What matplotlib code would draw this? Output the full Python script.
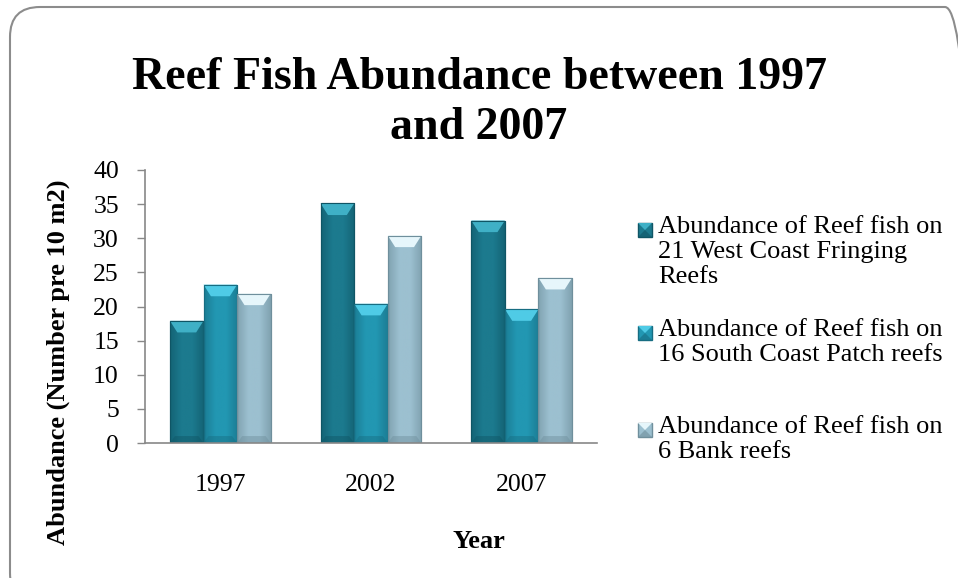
import matplotlib
matplotlib.use("Agg")
import matplotlib.pyplot as plt
import numpy as np
from matplotlib.patches import FancyBboxPatch, Polygon, Rectangle
from matplotlib.colors import LinearSegmentedColormap

years = ["1997", "2002", "2007"]
series_names = [
    "Abundance of Reef fish on\n21 West Coast Fringing\nReefs",
    "Abundance of Reef fish on\n16 South Coast Patch reefs",
    "Abundance of Reef fish on\n6 Bank reefs",
]
west_coast = [17.9, 35.1, 32.6]
south_coast = [23.2, 20.4, 19.6]
bank_reefs = [21.9, 30.4, 24.2]
yticks = [0, 5, 10, 15, 20, 25, 30, 35, 40]

colors = ["#1c7a8e", "#2297b2", "#9cc0d0"]
hi_colors = ["#3fb0c6", "#4fcbe6", "#e6f6fb"]
dark_colors = ["#0f5565", "#176d82", "#6f8f9c"]

serif = ["Liberation Serif", "DejaVu Serif"]
plt.rcParams['font.family'] = serif

W, H = 958, 578
fig = plt.figure(figsize=(W / 100, H / 100), dpi=100)
ax = fig.add_axes([145 / W, 1 - 443 / H, (597 - 145) / W, (443 - 170) / H])

x = np.arange(len(years))
width = 0.223
data = [west_coast, south_coast, bank_reefs]
handles = []
for i, (vals, c) in enumerate(zip(data, colors)):
    offs = (i - 1) * width
    bars = ax.bar(x + offs, vals, width, color=c, edgecolor=dark_colors[i],
                  linewidth=0.8, label=series_names[i], zorder=2)
    handles.append(bars)
    cmap = LinearSegmentedColormap.from_list("g%d" % i, [dark_colors[i], c, c, dark_colors[i]])
    for b, v in zip(bars, vals):
        x0 = b.get_x()
        w = b.get_width()
        grad = np.linspace(0, 1, 64).reshape(1, -1)
        im = ax.imshow(grad, extent=[x0, x0 + w, 0, v], aspect='auto', cmap=cmap,
                       zorder=2.1, alpha=0.6)
        im.set_clip_path(b)
        cap = 1.7
        top = Polygon([[x0, v], [x0 + w, v], [x0 + w * 0.78, v - cap], [x0 + w * 0.22, v - cap]],
                      closed=True, facecolor=hi_colors[i], edgecolor='none', zorder=2.2)
        ax.add_patch(top)
        bot = Polygon([[x0, 0], [x0 + w, 0], [x0 + w * 0.85, cap * 0.6], [x0 + w * 0.15, cap * 0.6]],
                      closed=True, facecolor=dark_colors[i], edgecolor='none', alpha=0.45, zorder=2.2)
        ax.add_patch(bot)
        ax.add_patch(Rectangle((x0, 0), w, v, fill=False, edgecolor=dark_colors[i],
                               linewidth=0.8, zorder=2.3))

ax.set_xlim(-0.5, 2.5)
ax.set_ylim(0, 40)
ax.set_yticks(yticks)
ax.set_yticklabels([str(t) for t in yticks], fontsize=18.5)
ax.set_xticks(x)
ax.set_xticklabels(years, fontsize=18.5)
ax.tick_params(axis='x', length=0, pad=22)
ax.tick_params(axis='y', length=5.8, color='#888888', width=1, pad=13)
for s in ['top', 'right']:
    ax.spines[s].set_visible(False)
ax.spines['left'].set_color('#888888')
ax.spines['bottom'].set_color('#888888')
ax.spines['left'].set_linewidth(1.2)
ax.spines['bottom'].set_linewidth(1.2)

ax.set_xlabel("Year", fontsize=19, fontweight='bold', va='center')
ax.xaxis.set_label_coords(0.5, 1 - 541 / H, transform=fig.transFigure)
ax.set_ylabel("Abundance (Number pre 10 m2)", fontsize=19, fontweight='bold', va='center')
ax.yaxis.set_label_coords(58 / W, 1 - 362 / H, transform=fig.transFigure)

fig.text(0.5, 1 - 103 / H, "Reef Fish Abundance between 1997\nand 2007", ha='center', va='center',
         fontsize=33, fontweight='bold', linespacing=1.27)

# legend (marker aligned with first line of each entry, as in the original)
leg_line_centers = [230, 333, 430]
for i, yc in enumerate(leg_line_centers):
    mx0, my0, ms = 638, yc - 7, 14
    def P(px, py):
        return (px / W, 1 - py / H)
    fig.patches.append(Rectangle(P(mx0, my0 + ms), ms / W, ms / H, transform=fig.transFigure,
                                 facecolor=colors[i], edgecolor=dark_colors[i], linewidth=1.0))
    fig.patches.append(Polygon([P(mx0, my0), P(mx0 + ms, my0), P(mx0 + ms / 2, my0 + ms / 2)],
                               closed=True, transform=fig.transFigure,
                               facecolor=hi_colors[i], edgecolor='none'))
    fig.patches.append(Polygon([P(mx0, my0 + ms), P(mx0 + ms, my0 + ms), P(mx0 + ms / 2, my0 + ms / 2)],
                               closed=True, transform=fig.transFigure,
                               facecolor=dark_colors[i], edgecolor='none', alpha=0.6))
    fig.text(658 / W, 1 - (yc - 14) / H, series_names[i], ha='left', va='top',
             fontsize=19, linespacing=1.19)

border = FancyBboxPatch((0.10, -0.25), 9.65, 5.78 + 0.25 - 0.07,
                        boxstyle="round,pad=0,rounding_size=0.3",
                        transform=fig.dpi_scale_trans, fill=False, edgecolor='#8c8c8c',
                        linewidth=1.5, clip_on=False)
fig.patches.append(border)

fig.savefig("out.png", dpi=100)
